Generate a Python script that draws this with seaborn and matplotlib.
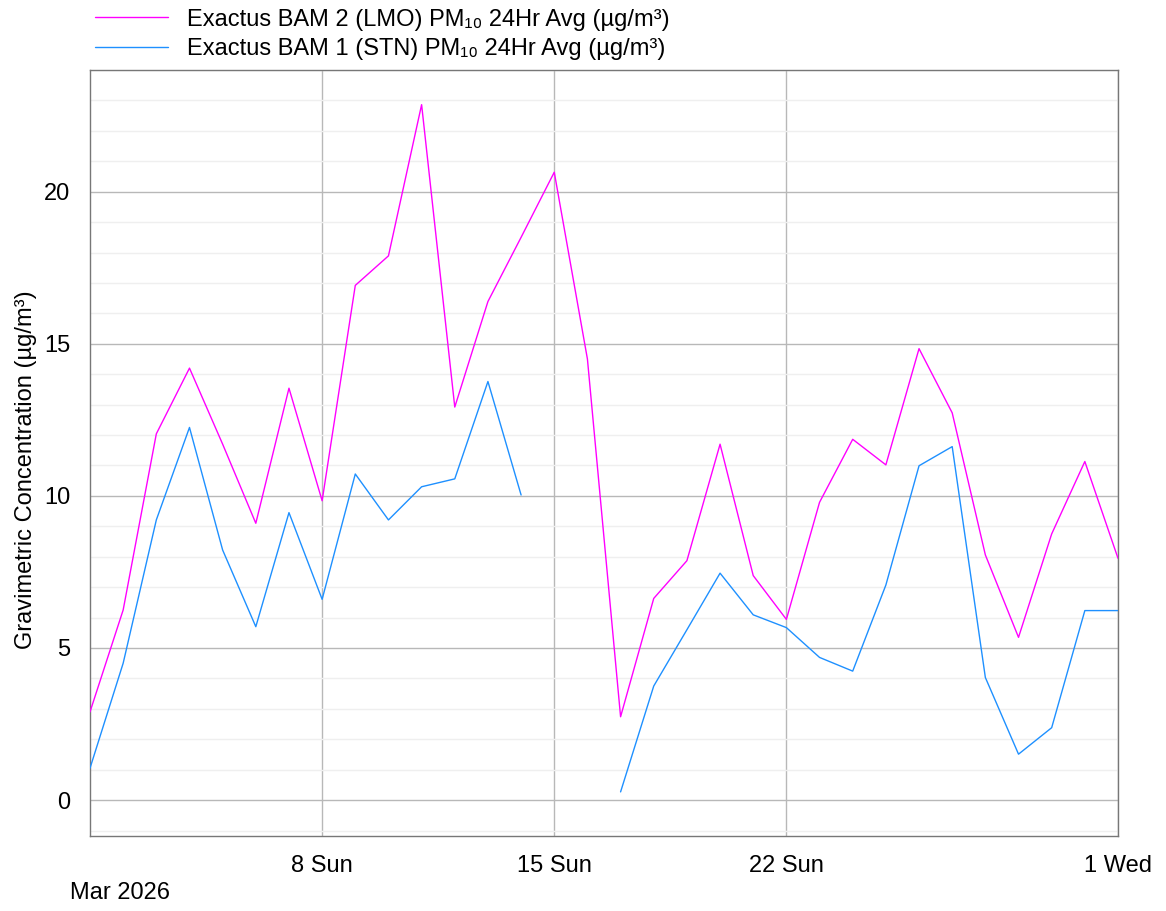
import numpy as np
import pandas as pd
import matplotlib
matplotlib.use("Agg")
import matplotlib.pyplot as plt
import matplotlib.dates as mdates
from matplotlib.ticker import MultipleLocator, FixedLocator, NullFormatter
from matplotlib.lines import Line2D
import seaborn as sns

# ---- data ----
dates = pd.date_range("2026-03-01", "2026-04-01", freq="D")
bam2_lmo = [2.9, 6.25, 12.04, 14.2, 11.7, 9.1, 13.54, 9.84, 16.92, 17.89, 22.86,
            12.92, 16.39, 18.5, 20.64, 14.5, 2.74, 6.63, 7.87, 11.7, 7.38, 5.94,
            9.79, 11.86, 11.02, 14.84, 12.73, 8.06, 5.35, 8.75, 11.13, 7.95]
bam1_stn = [1.05, 4.5, 9.21, 12.25, 8.22, 5.70, 9.45, 6.6, 10.72, 9.21, 10.3,
            10.56, 13.76, 10.03, np.nan, np.nan, 0.27, 3.75, 5.6, 7.46, 6.09, 5.67,
            4.69, 4.24, 7.07, 10.99, 11.62, 4.03, 1.51, 2.38, 6.23, 6.23]
series_names = ["Exactus BAM 2 (LMO) PM₁₀ 24Hr Avg (µg/m³)",
                "Exactus BAM 1 (STN) PM₁₀ 24Hr Avg (µg/m³)"]
series_colors = ["#ff00ff", "#1e90ff"]
major_tick_dates = ["2026-03-08", "2026-03-15", "2026-03-22", "2026-04-01"]
major_tick_labels = ["8 Sun", "15 Sun", "22 Sun", "1 Wed"]
y_label = "Gravimetric Concentration (µg/m³)"
month_label = "Mar 2026"

# long-form frame, with segments so that gaps break the line
rows = []
for name, vals in zip(series_names, [bam2_lmo, bam1_stn]):
    seg = 0
    prev_nan = False
    for d, v in zip(dates, vals):
        if np.isnan(v):
            prev_nan = True
            continue
        if prev_nan:
            seg += 1
            prev_nan = False
        rows.append({"date": d, "value": v, "series": name, "seg": f"{name}-{seg}"})
df = pd.DataFrame(rows)

sns.set_style("white")
plt.rcParams["font.family"] = ["Liberation Sans", "DejaVu Sans"]
plt.rcParams["text.color"] = "black"
plt.rcParams["axes.labelcolor"] = "black"

FS = 17

fig = plt.figure(figsize=(11.66, 9.11), dpi=100)
ax = fig.add_axes([90 / 1166, 1 - 836 / 911, (1118 - 90) / 1166, (836 - 70) / 911])

sns.lineplot(data=df, x="date", y="value", hue="series", units="seg",
             estimator=None, palette=dict(zip(series_names, series_colors)),
             hue_order=series_names, linewidth=1.0, legend=False, ax=ax, zorder=3)

ax.set_xlim(pd.Timestamp("2026-03-01"), pd.Timestamp("2026-04-01"))
ax.set_ylim(-1.18, 24.0)

# y axis
ax.yaxis.set_major_locator(MultipleLocator(5))
ax.yaxis.set_minor_locator(MultipleLocator(1))
ax.tick_params(axis="y", which="major", direction="out", length=9, width=1,
               color="#888888", labelsize=FS, labelcolor="black", pad=5)
ax.tick_params(axis="y", which="minor", length=0)

# x axis
ax.xaxis.set_major_locator(FixedLocator(mdates.date2num(pd.to_datetime(major_tick_dates))))
ax.xaxis.set_major_formatter(matplotlib.ticker.FixedFormatter(major_tick_labels))
ax.xaxis.set_minor_locator(mdates.DayLocator())
ax.xaxis.set_minor_formatter(NullFormatter())
ax.tick_params(axis="x", which="major", direction="out", length=11, width=1,
               color="#aaaaaa", labelsize=FS, labelcolor="black", pad=3)
ax.tick_params(axis="x", which="minor", direction="in", length=8, width=1,
               color="#aaaaaa")

ax.grid(which="major", axis="both", color="#b8b8b8", linewidth=1.0, zorder=1)
ax.grid(which="minor", axis="y", color="#efefef", linewidth=1.0, zorder=0)
ax.set_axisbelow(True)

for s in ax.spines.values():
    s.set_color("#777777")
    s.set_linewidth(1.0)
    s.set_visible(True)

ax.set_xlabel("")
ax.set_ylabel(y_label, fontsize=FS)
ax.yaxis.set_label_coords(-0.052, 0.478)

fig.text(70 / 1166, 1 - 893 / 911, month_label, fontsize=FS, ha="left", va="center")

handles = [Line2D([], [], color=c, lw=1.0) for c in series_colors]
fig.legend(handles, series_names, loc="upper left",
           bbox_to_anchor=(90 / 1166, 1 - 4 / 911), frameon=False, fontsize=FS,
           handlelength=3.1, handletextpad=0.8, labelspacing=0.3,
           borderpad=0.2, borderaxespad=0.0)

fig.savefig("out.png", dpi=100)
